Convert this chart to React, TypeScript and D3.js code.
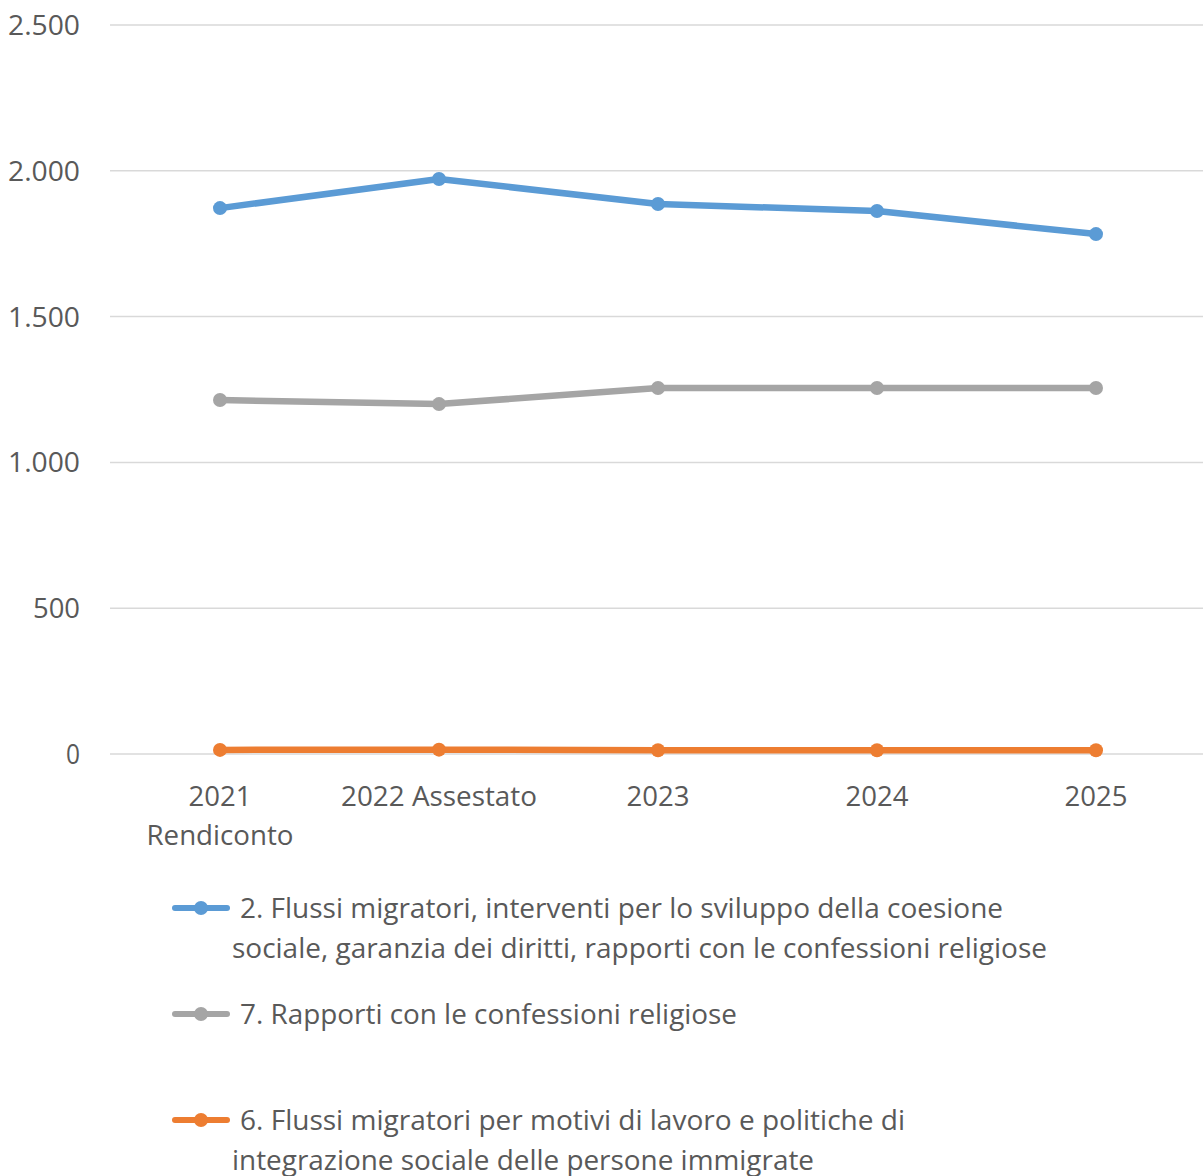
import React from "react";
import * as d3 from "d3";

const categories: string[][] = [["2021", "Rendiconto"], ["2022 Assestato"], ["2023"], ["2024"], ["2025"]];
const blueValues = [1872, 1972, 1886, 1862, 1783];
const grayValues = [1214, 1200, 1255, 1255, 1255];
const orangeValues = [14, 15, 13, 13, 13];
const yTicks = [0, 500, 1000, 1500, 2000, 2500];
const seriesNames = [
  ["2. Flussi migratori, interventi per lo sviluppo della coesione", "sociale, garanzia dei diritti, rapporti con le confessioni religiose"],
  ["7. Rapporti con le confessioni religiose"],
  ["6. Flussi migratori per motivi di lavoro e politiche di", "integrazione sociale delle persone immigrate"],
];
const colors = ["#5B9BD5", "#A5A5A5", "#ED7D31"];

const W = 1203;
const H = 1176;
const FONT = "'Open Sans', 'DejaVu Sans', sans-serif";
const TXT = "#595959";

function fmt(v: number) {
  return d3.format(",")(v).replace(/,/g, ".");
}

export default function App() {
  const x = d3.scaleBand<number>().domain(d3.range(categories.length)).range([110.5, 1205.5]);
  const y = d3.scaleLinear().domain([0, 2500]).range([754, 25]);
  const cx = (i: number) => (x(i) as number) + x.bandwidth() / 2;
  const line = d3.line<number>().x((_, i) => cx(i)).y((d) => y(d));
  const series = [blueValues, grayValues, orangeValues];
  const order = [1, 0, 2];
  const legendY = [908, 1014, 1120];
  const legendLens = [[763, 815], [497], [665, 582]];

  return (
    <svg width={W} height={H} style={{ position: "absolute", left: 0, top: 0, background: "#fff" }} fontFamily={FONT}>
      <rect width={W} height={H} fill="#fff" />
      {yTicks.map((t) => {
        const s = fmt(t);
        return (
          <g key={t}>
            <line x1={110} x2={W} y1={y(t)} y2={y(t)} stroke="#D9D9D9" strokeWidth={1.5} />
            <text x={80} y={y(t)} dy="0.36em" textAnchor="end" fontSize={28} fill={TXT}
              textLength={s.length === 5 ? 72 : s.length === 3 ? 47 : 14} lengthAdjust="spacingAndGlyphs">
              {s}
            </text>
          </g>
        );
      })}
      {categories.map((c, i) =>
        c.map((s, j) => (
          <text key={i + "-" + j} x={cx(i)} y={806 + j * 39} textAnchor="middle" fontSize={27} fill={TXT}
            textLength={s === "2022 Assestato" ? 196 : s === "Rendiconto" ? 147 : 63} lengthAdjust="spacingAndGlyphs">
            {s}
          </text>
        ))
      )}
      {order.map((k) => (
        <g key={k}>
          <path d={line(series[k]) || ""} fill="none" stroke={colors[k]} strokeWidth={6.5} strokeLinejoin="round" strokeLinecap="round" />
          {series[k].map((v, i) => (
            <circle key={i} cx={cx(i)} cy={y(v)} r={7} fill={colors[k]} />
          ))}
        </g>
      ))}
      {seriesNames.map((lines, k) => (
        <g key={k}>
          <line x1={175} x2={227} y1={legendY[k]} y2={legendY[k]} stroke={colors[k]} strokeWidth={6} strokeLinecap="round" />
          <circle cx={201} cy={legendY[k]} r={7} fill={colors[k]} />
          {lines.map((s, j) => (
            <text key={j} x={j === 0 ? 240 : 232} y={legendY[k] + j * 40} dy="0.36em" fontSize={27} fill={TXT}
              textLength={legendLens[k][j]} lengthAdjust="spacingAndGlyphs">
              {s}
            </text>
          ))}
        </g>
      ))}
    </svg>
  );
}
